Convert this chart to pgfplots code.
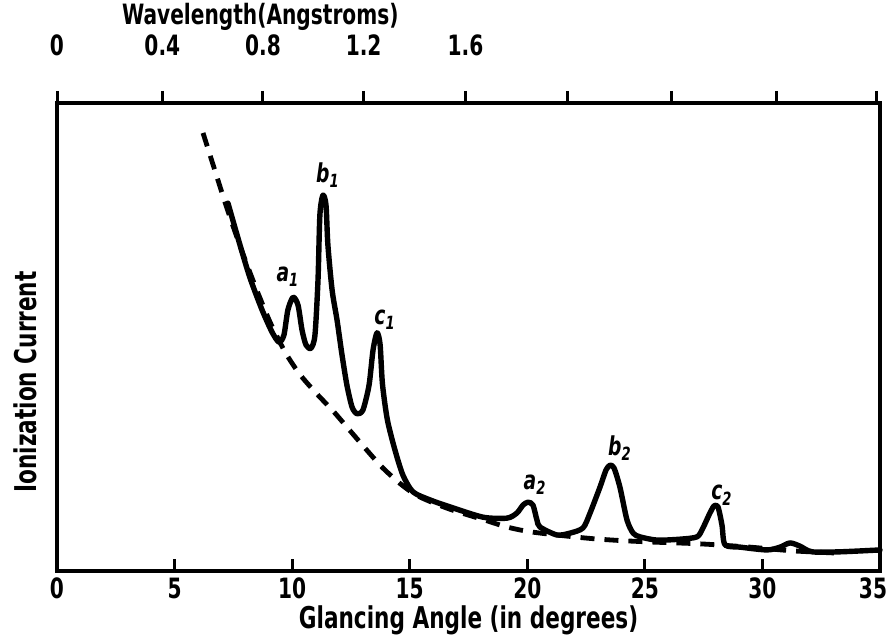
\documentclass[border=0pt]{standalone}
\usepackage{pgfplots}
\pgfplotsset{compat=1.18}
\usepackage{fontspec}
\setmainfont{DejaVu Sans}[FakeStretch=0.72]
\begin{document}
\begin{tikzpicture}
\begin{axis}[name=main, scale only axis, width=411.5pt, height=234pt,
  xmin=0, xmax=35, ymin=0, ymax=100, clip=false,
  axis line style={line width=2pt, line cap=round},
  xtick={0,5,...,35}, xtick pos=bottom, tick align=inside,
  xticklabels={0,5,10,15,20,25,30,{\kern-7pt 35}},
  major tick length=6pt, tick style={line width=1.5pt, black},
  ytick=\empty,
  /pgf/number format/assume math mode=true,
  tick label style={font=\fontsize{14}{14}\selectfont\bfseries},
  xlabel={Glancing Angle (in degrees)},
  xlabel style={font=\fontsize{15}{15}\selectfont\bfseries, at={(axis description cs:0.5,-0.1047)}, anchor=center},
  ylabel={Ionization Current},
  ylabel style={font=\fontsize{15}{15}\selectfont\bfseries, at={(axis description cs:-0.0389,0.404)}, anchor=center},
]
% background (dashed)
\addplot[black, line width=2.4pt, dash pattern=on 7pt off 5pt, smooth, tension=0.5] coordinates {
(6.21,93.6)(6.72,85.5)(7.23,77.5)(7.78,69.5)(8.42,61.0)(9.06,53.2)(9.70,46.8)(10.33,42.0)(11.06,37.8)(11.74,34.2)(12.46,30.0)(13.18,25.8)(13.86,22.0)(14.71,18.2)(15.44,15.8)(16.71,13.2)(18.12,11.0)(19.14,9.4)(20.24,8.3)(22.37,7.1)(23.65,6.6)(25.22,6.2)(27.35,5.8)(29.47,5.1)(31.30,4.3)(33.3,3.8)
};
% measured curve (solid)
\addplot[black, line width=2.7pt, line join=round, line cap=round, smooth, tension=0.45] coordinates {
(7.27,78.6)(7.78,69.7)(8.21,62.6)(8.72,55.8)(9.14,51.1)(9.44,48.9)(9.65,50.4)(9.82,55.8)(10.04,58.5)(10.25,56.8)(10.42,51.5)(10.59,48.3)(10.80,47.6)(10.97,50.4)(11.10,62.2)(11.18,76.1)(11.31,80.3)(11.44,78.2)(11.52,69.7)(11.70,60.0)(11.91,53.6)(12.12,46.2)(12.33,39.7)(12.55,35.0)(12.76,33.6)(13.01,34.4)(13.27,39.7)(13.44,47.2)(13.61,50.9)(13.74,48.4)(13.84,40.0)(14.05,32.3)(14.37,25.9)(14.71,20.5)(15.14,16.9)(15.86,15.2)(16.71,13.7)(18.12,11.5)(19.14,11.3)(19.56,12.4)(19.82,14.1)(20.03,14.7)(20.24,14.1)(20.41,10.9)(20.54,9.4)(21.26,7.7)(21.82,8.1)(22.37,9.2)(22.67,12.4)(23.09,17.9)(23.35,21.6)(23.52,22.6)(23.69,22.0)(23.94,17.9)(24.24,10.9)(24.50,8.1)(24.79,7.3)(25.52,6.6)(26.50,6.8)(27.22,7.3)(27.47,9.2)(27.73,12.0)(27.94,13.9)(28.11,13.7)(28.28,9.8)(28.41,5.6)(29.05,5.1)(30.19,4.5)(30.75,5.1)(31.17,6.0)(31.60,5.3)(32.11,4.1)(33.30,4.1)(35.0,4.5)
};
\begin{scope}[font=\fontsize{13}{13}\selectfont\bfseries\itshape]
\node at (axis cs:9.82,62.8) {a\textsubscript{1}};
\node at (axis cs:11.52,84.6) {b\textsubscript{1}};
\node at (axis cs:13.95,53.6) {c\textsubscript{1}};
\node at (axis cs:20.33,18.4) {a\textsubscript{2}};
\node at (axis cs:23.94,26.3) {b\textsubscript{2}};
\node at (axis cs:28.28,16.2) {c\textsubscript{2}};
\end{scope}
\node[font=\fontsize{14}{14}\selectfont\bfseries] at (axis description cs:0.247,1.184) {Wavelength(Angstroms)};
\end{axis}
\begin{axis}[at={(main.south west)}, anchor=south west, scale only axis, width=411.5pt, height=234pt,
  xmin=0, xmax=35, ymin=0, ymax=100,
  axis x line*=top, axis y line=none,
  axis line style={line width=2pt},
  xtick={0,4.48,8.76,13.04,17.37,21.70,26.13,30.6,34.86},
  xticklabels={0,0.4,0.8,1.2,1.6,,,,},
  tick align=outside, major tick length=6pt, tick style={line width=1.5pt, black},
  xticklabel style={font=\fontsize{14}{14}\selectfont\bfseries, yshift=14pt},
]
\end{axis}
\pgfresetboundingbox
\path[use as bounding box] ([xshift=-28.5pt,yshift=-35.5pt]main.south west) rectangle ([xshift=3.5pt,yshift=51.5pt]main.north east);
\end{tikzpicture}
\end{document}
